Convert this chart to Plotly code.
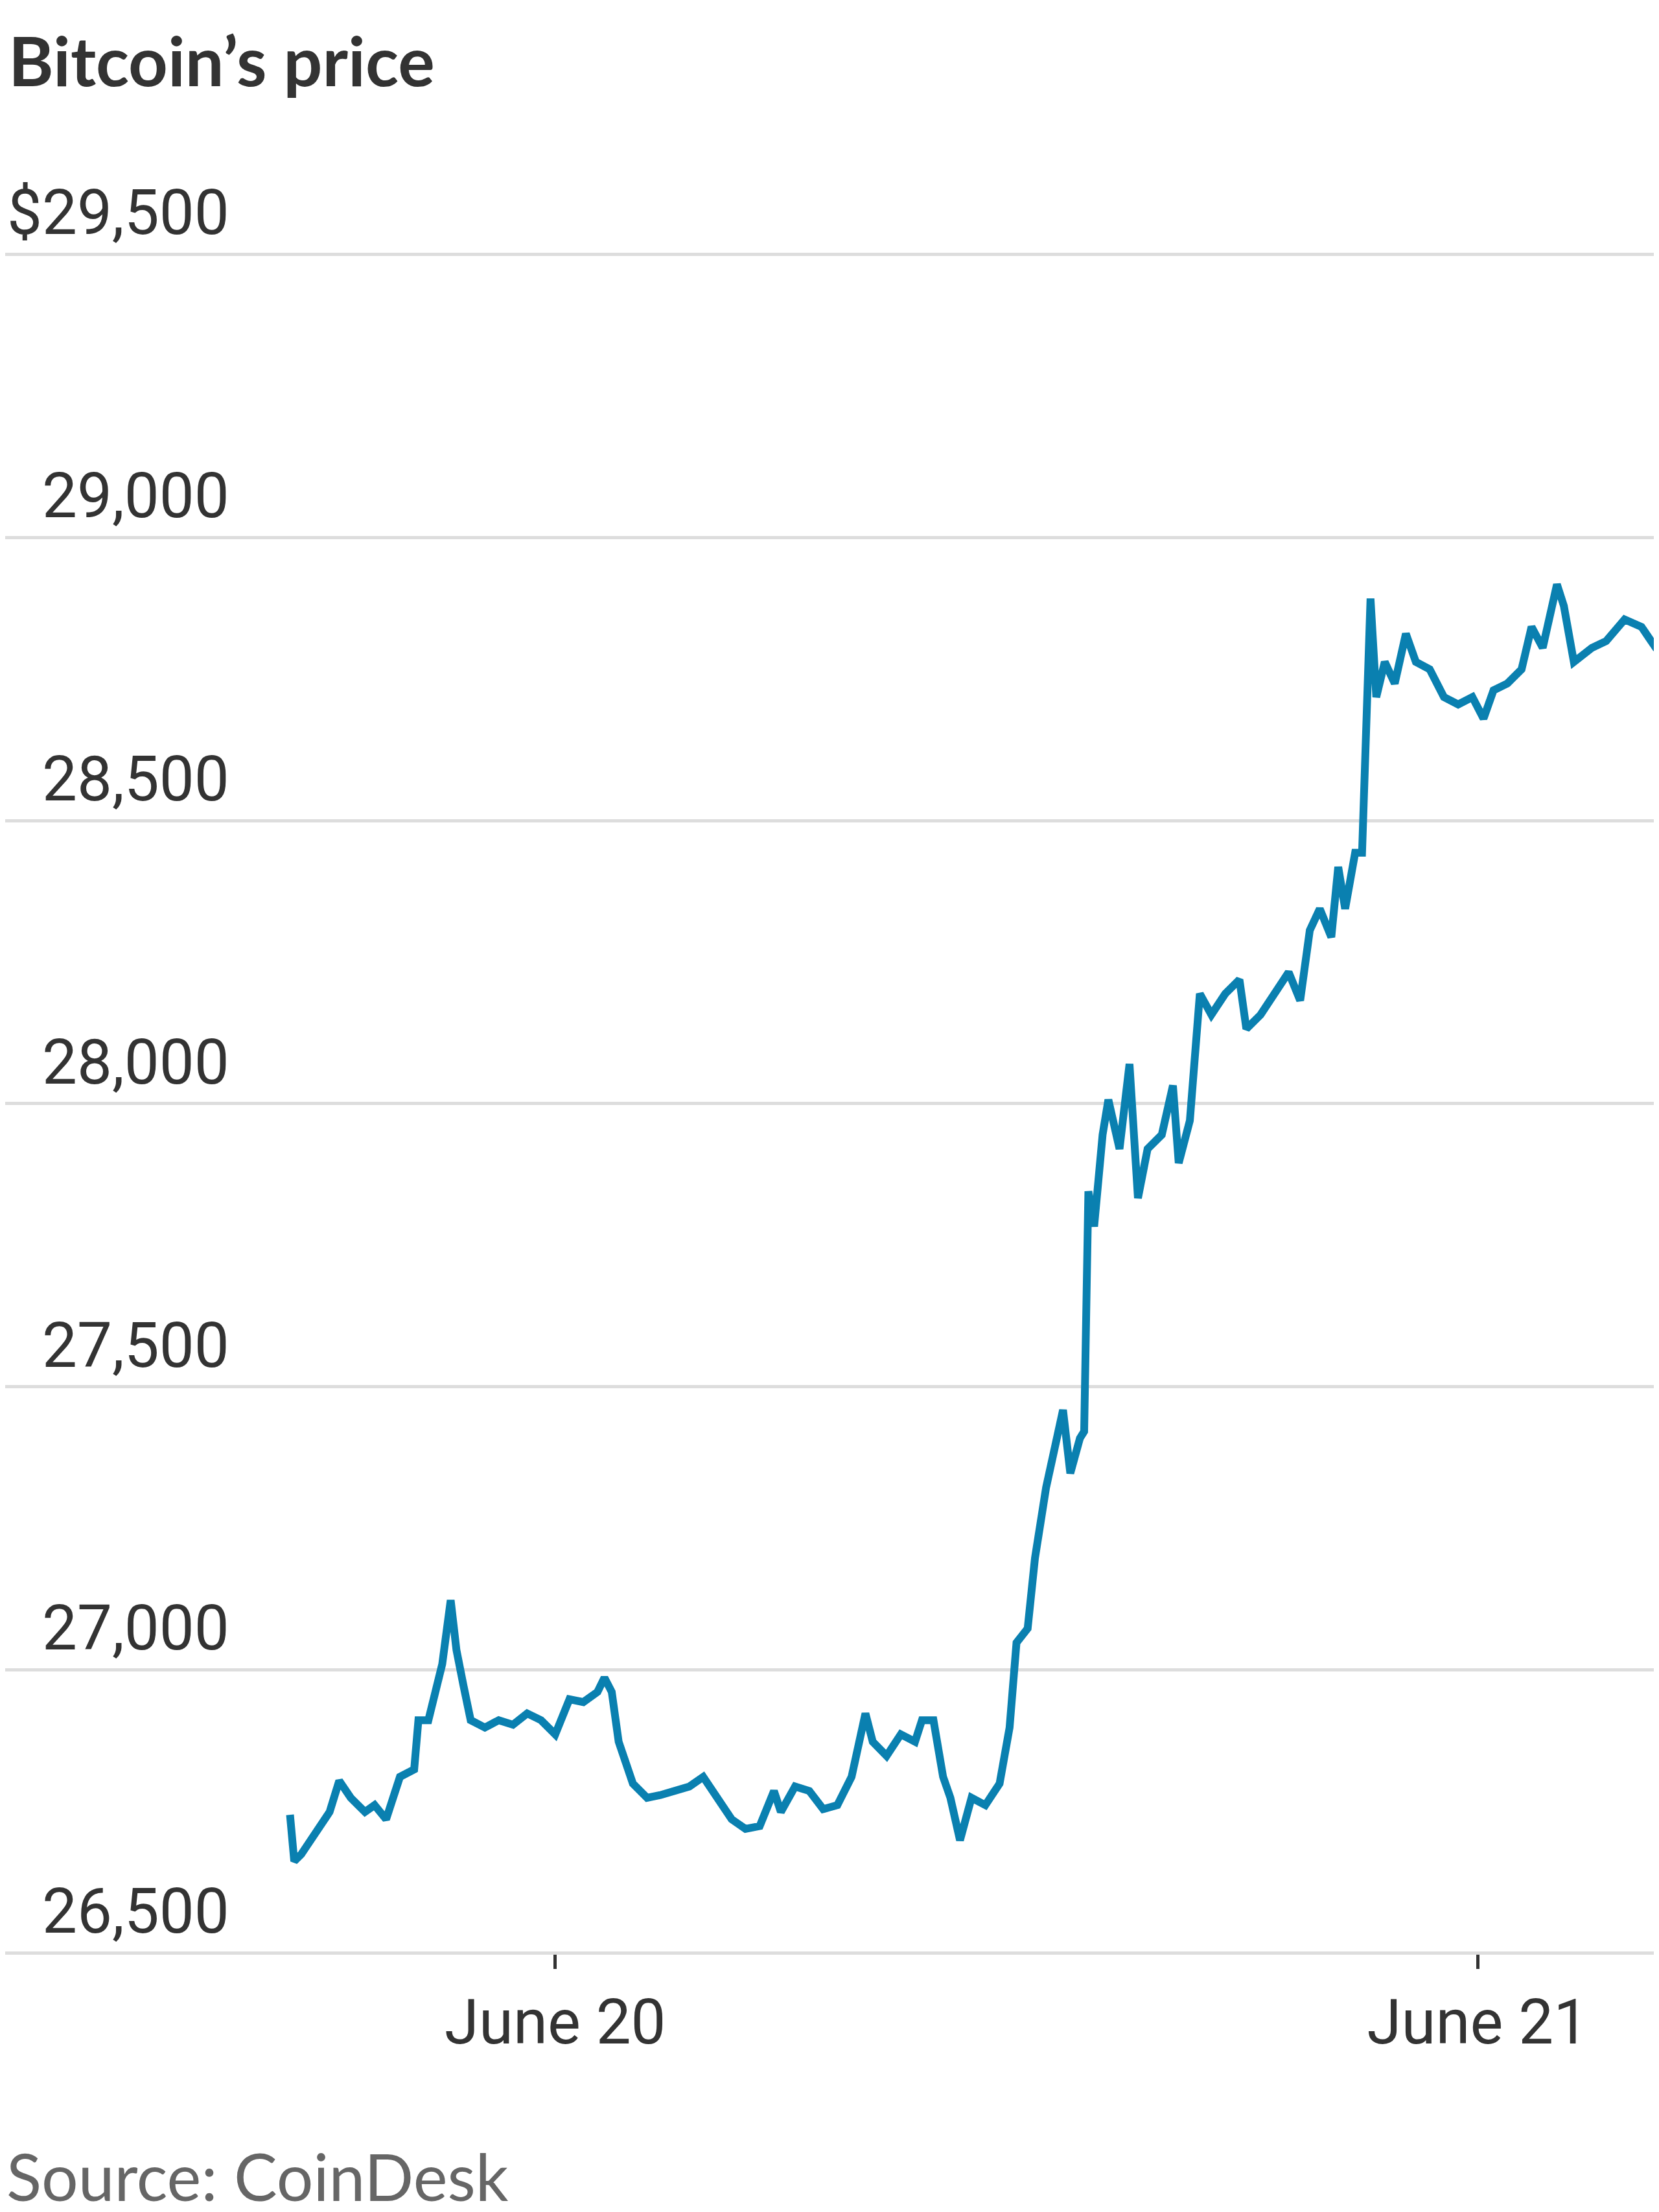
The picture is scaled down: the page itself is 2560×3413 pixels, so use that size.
import plotly.graph_objects as go
from datetime import datetime, timedelta

# hours relative to June 20 00:00
hours = [-6.90,-6.79,-6.61,-6.24,-5.87,-5.62,-5.32,-4.95,-4.70,-4.40,
         -4.04,-3.67,-3.56,-3.30,-3.12,-2.94,-2.72,-2.57,-2.39,-2.20,
         -1.83,-1.47,-1.10,-0.73,-0.37,0.00,0.37,0.73,1.10,1.28,
         1.47,1.65,2.02,2.39,2.75,3.12,3.49,3.85,4.22,4.59,
         4.95,5.32,5.69,5.87,6.24,6.61,6.97,7.34,7.71,8.07,
         8.26,8.62,8.99,9.36,9.54,9.84,10.09,10.28,10.53,10.83,
         11.19,11.56,11.82,12.00,12.29,12.48,12.77,13.03,13.21,13.40,
         13.65,13.76,13.87,14.02,14.24,14.39,14.68,14.94,15.16,15.41,
         15.78,16.07,16.22,16.51,16.77,17.07,17.43,17.80,17.98,18.35,
         18.72,19.08,19.38,19.63,19.89,20.19,20.37,20.55,20.81,20.99,
         21.21,21.36,21.58,21.84,22.13,22.39,22.75,23.12,23.49,23.86,
         24.15,24.41,24.77,25.14,25.40,25.69,26.06,26.24,26.50,26.97,
         27.34,27.82,28.26,28.63,28.85]
prices = [26744,26662,26674,26711,26749,26804,26774,26749,26761,26736,
          26811,26824,26911,26911,26961,27010,27123,27035,26973,26911,
          26898,26911,26903,26923,26911,26886,26948,26943,26961,26986,
          26961,26873,26799,26774,26779,26786,26794,26811,26774,26736,
          26719,26724,26786,26749,26794,26786,26754,26761,26811,26923,
          26873,26848,26886,26873,26911,26911,26811,26774,26699,26774,
          26761,26799,26898,27048,27073,27197,27322,27397,27459,27347,
          27409,27421,27845,27783,27945,28007,27920,28070,27833,27920,
          27945,28032,27895,27970,28194,28157,28194,28219,28132,28157,
          28194,28232,28182,28306,28344,28294,28418,28344,28443,28443,
          28892,28718,28780,28742,28830,28780,28767,28718,28705,28718,
          28680,28730,28742,28767,28842,28805,28917,28879,28780,28805,
          28817,28855,28842,28805,28792]
ytick_vals = [26500, 27000, 27500, 28000, 28500, 29000, 29500]
ytick_text = ["26,500", "27,000", "27,500", "28,000", "28,500", "29,000", "$29,500"]
xtick_labels = ["June 20", "June 21"]

base = datetime(2023, 6, 20)
times = [base + timedelta(hours=h) for h in hours]
xticks = [base, base + timedelta(days=1)]

narrow = "Roboto, sans-serif"

fig = go.Figure(go.Scatter(x=times, y=prices, mode="lines",
                           line=dict(color="#0a80b0", width=12), hoverinfo="skip"))

fig.update_layout(
    width=2560, height=3413, plot_bgcolor="white", paper_bgcolor="white",
    margin=dict(l=0, r=0, t=380, b=406), showlegend=False,
    title=dict(text="<b>Bitcoin’s price</b>", x=0.002, xanchor="left", y=0.985, yanchor="top",
               font=dict(family="Lato, sans-serif", size=106, color="#333333")),
    xaxis=dict(range=[base + timedelta(hours=-14.31), base + timedelta(hours=28.85)],
               tickvals=xticks, ticktext=xtick_labels, showgrid=False, zeroline=False,
               ticks="outside", ticklen=22, tickwidth=5, tickcolor="#333333",
               tickfont=dict(family=narrow, size=96, color="#333333"), showline=False),
    yaxis=dict(range=[26498, 29505], tickvals=ytick_vals, showticklabels=False,
               gridcolor="#dddddd", gridwidth=5, zeroline=False, fixedrange=True),
)
for v, t in zip(ytick_vals, ytick_text):
    fig.add_annotation(x=348/2560, xref="paper", y=v, yref="y", text=t, showarrow=False,
                       xanchor="right", yanchor="bottom", yshift=6,
                       font=dict(family=narrow, size=96, color="#333333"))
fig.add_annotation(x=0, xref="paper", y=-0.13, yref="paper", text="Source: CoinDesk",
                   showarrow=False, xanchor="left", yanchor="middle",
                   font=dict(family="Lato, sans-serif", size=100, color="#666666"))
fig.write_html("out.html")
